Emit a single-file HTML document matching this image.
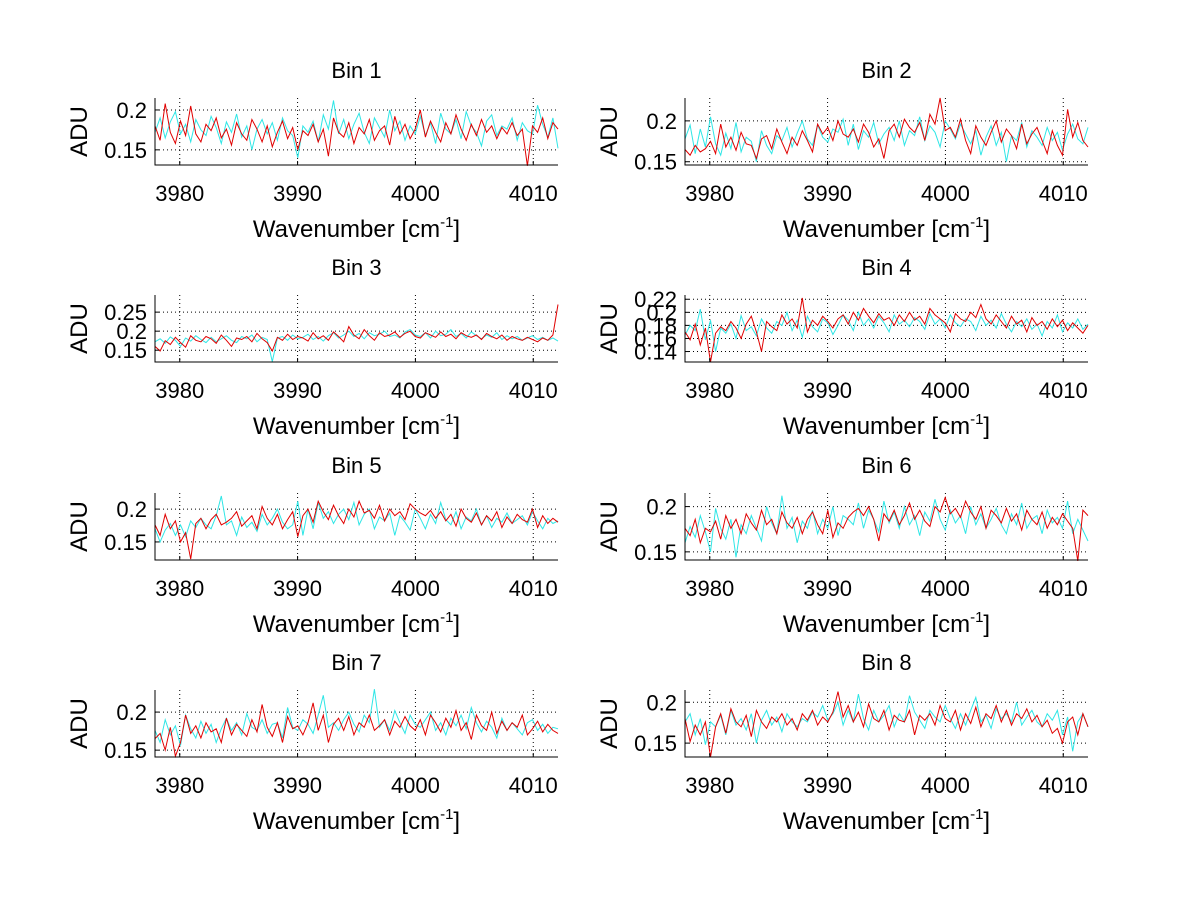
<!DOCTYPE html>
<html><head><meta charset="utf-8">
<style>
html,body{margin:0;padding:0;background:#fff;}
svg{display:block;font-family:"Liberation Sans",Arial,sans-serif;}
</style></head>
<body>
<svg id="fig" width="1200" height="901" viewBox="0 0 1200 901"></svg>
<script>
const binNames = ["Bin 1","Bin 2","Bin 3","Bin 4","Bin 5","Bin 6","Bin 7","Bin 8"];
const xMin = 3977.9, xMax = 4012.1;
const xTicks = [3980,3990,4000,4010];
const yRanges = [[0.131,0.215],[0.146,0.228],[0.119,0.295],[0.124,0.2265],[0.1225,0.2245],[0.141,0.215],[0.141,0.229],[0.133,0.215]];
const yTicks = [[0.15,0.2],[0.15,0.2],[0.15,0.2,0.25],[0.14,0.16,0.18,0.2,0.22],[0.15,0.2],[0.15,0.2],[0.15,0.2],[0.15,0.2]];
const yTickLabels = [["0.15","0.2"],["0.15","0.2"],["0.15","0.2","0.25"],["0.14","0.16","0.18","0.2","0.22"],["0.15","0.2"],["0.15","0.2"],["0.15","0.2"],["0.15","0.2"]];
// values in milli-ADU
const cyan1 = [172,190,165,185,198,170,182,160,188,175,168,192,178,158,185,172,195,166,180,150,176,188,170,184,162,190,174,168,140,180,172,186,160,194,176,212,170,188,164,182,196,172,158,190,178,166,200,174,186,162,180,170,192,168,184,158,196,176,170,188,164,198,180,172,155,186,194,168,180,176,190,162,184,174,170,206,182,166,190,152];
const red1 = [180,162,208,172,158,186,168,205,170,160,182,174,190,165,176,156,184,170,162,188,176,160,180,154,172,186,164,178,150,174,168,182,160,176,142,190,172,166,184,158,178,170,188,162,174,180,156,192,170,182,164,176,200,166,186,172,160,184,170,194,176,162,182,168,188,172,180,164,178,170,184,168,176,130,180,172,190,164,184,176];
const cyan2 = [178,195,160,190,168,205,172,158,185,166,198,162,180,175,150,188,170,160,182,176,192,168,185,200,178,170,195,180,174,190,186,202,170,196,165,188,180,198,172,184,192,176,200,170,188,182,205,176,194,186,168,200,190,178,196,184,172,188,158,180,194,170,186,150,182,176,198,168,188,180,170,192,176,186,164,184,196,178,172,192];
const red2 = [165,158,170,162,166,175,160,196,168,180,164,186,172,170,154,178,182,166,190,174,160,180,170,188,176,162,196,184,192,176,200,184,180,190,174,196,186,168,178,154,188,196,180,202,192,186,198,176,208,196,228,188,192,180,202,176,160,194,180,170,186,200,174,190,182,166,196,172,184,192,176,160,188,170,158,214,180,198,176,168];
const cyan3 = [172,180,168,185,176,160,182,174,188,178,170,184,172,180,188,176,170,186,180,190,172,184,178,120,182,186,176,190,180,184,192,178,186,174,188,196,182,190,200,186,194,180,196,188,192,200,186,190,182,198,204,190,186,196,182,200,188,192,204,186,194,182,198,188,180,190,184,196,178,188,180,186,176,182,188,178,184,176,182,174];
const red3 = [160,148,175,165,184,170,158,188,176,172,186,180,168,190,176,160,182,178,186,172,194,180,170,148,184,176,192,178,186,182,174,196,180,188,176,198,186,172,212,190,180,204,188,176,196,186,190,198,184,194,200,186,182,196,190,184,198,186,192,180,196,188,184,190,178,194,186,180,190,176,186,180,176,184,178,172,182,176,190,270];
const cyan4 = [165,180,172,205,158,188,140,176,168,182,160,195,172,178,164,190,176,168,186,180,200,172,188,162,194,178,170,190,184,166,180,196,188,172,200,180,190,176,194,184,170,196,182,188,178,192,186,174,198,182,190,176,196,184,178,190,186,172,194,180,188,176,198,182,170,186,178,190,174,182,164,186,176,196,170,184,176,190,174,182];
const red4 = [170,158,182,150,176,124,168,178,172,186,176,160,182,194,170,140,186,178,172,196,182,190,176,222,170,188,180,194,186,176,190,196,182,200,188,206,194,184,198,188,192,180,196,186,200,188,194,182,206,196,190,184,170,198,190,186,200,192,212,190,182,196,186,176,194,182,188,170,192,180,186,174,190,178,188,172,184,176,168,180];
const cyan5 = [170,150,168,178,160,176,158,182,172,186,176,170,190,220,176,182,160,188,172,180,166,192,176,186,200,180,170,176,212,160,200,170,210,186,196,178,192,200,184,210,176,192,200,170,188,182,194,160,190,180,168,200,186,170,192,178,210,184,176,196,170,188,182,200,176,190,172,186,180,194,178,184,190,176,196,182,170,186,178,182];
const red5 = [176,160,192,170,182,150,164,124,178,186,170,184,192,176,180,186,196,174,182,190,170,204,186,176,192,170,184,196,158,190,200,180,212,196,184,206,190,178,200,188,212,194,198,186,206,182,200,190,196,184,208,200,194,190,198,186,196,182,192,174,200,186,180,194,176,190,182,196,172,188,178,192,184,180,200,172,190,178,186,180];
const cyan6 = [160,178,166,190,172,150,198,176,164,186,144,180,170,190,176,162,200,182,170,212,176,188,160,184,176,196,170,186,176,200,168,190,186,180,204,176,196,186,172,206,182,194,176,200,180,190,168,194,184,208,186,174,196,182,190,170,200,180,192,176,186,198,180,170,192,180,204,176,186,190,170,196,182,188,176,206,170,186,174,162];
const red6 = [176,168,186,160,176,172,184,164,190,176,186,170,192,182,174,196,180,186,170,194,182,176,188,170,186,194,180,170,196,166,182,176,188,194,198,190,200,186,162,192,184,196,180,190,204,186,196,184,178,200,194,210,192,198,188,206,194,186,200,176,196,190,182,198,184,192,174,196,186,180,194,176,188,180,192,184,176,140,196,190];
const cyan7 = [176,160,190,170,182,156,196,178,166,188,172,184,160,178,192,176,186,170,198,180,176,190,172,184,186,166,206,180,176,190,184,172,196,222,180,186,176,190,200,184,174,196,186,230,180,190,176,202,186,172,196,184,180,190,200,176,186,170,192,182,196,178,206,186,174,188,180,166,192,176,186,178,170,186,190,176,184,172,180,178];
const red7 = [165,172,150,180,142,160,196,172,182,166,186,174,178,160,192,170,184,176,168,190,174,210,180,168,186,160,194,178,182,170,186,212,176,196,160,184,192,176,194,170,186,180,196,176,182,190,170,188,180,194,182,176,190,170,196,186,174,192,180,202,176,186,164,196,182,176,200,172,188,176,186,180,196,170,178,188,174,184,176,172];
const cyan8 = [176,186,160,180,148,176,170,184,160,190,172,180,166,186,150,178,190,172,182,164,186,176,170,180,176,188,182,196,178,186,200,172,190,176,210,180,166,190,176,184,196,170,186,176,208,188,178,168,190,182,176,196,180,168,186,172,190,206,176,184,168,192,180,186,176,200,172,182,190,176,170,186,178,190,160,182,140,176,186,170];
const red8 = [180,152,172,160,176,133,170,186,162,192,176,170,184,158,190,176,168,182,176,186,172,180,166,186,178,190,172,182,176,188,213,182,196,176,188,170,198,180,176,190,166,184,178,176,190,160,184,178,186,172,196,180,176,190,166,186,174,194,170,186,180,196,176,190,172,186,180,192,176,184,170,178,162,168,150,176,182,160,186,170];
const cyanSeries = [cyan1,cyan2,cyan3,cyan4,cyan5,cyan6,cyan7,cyan8];
const redSeries = [red1,red2,red3,red4,red5,red6,red7,red8];

const NS = "http://www.w3.org/2000/svg";
const svg = document.getElementById("fig");
function mk(tag, attrs, parent){
  const e = document.createElementNS(NS, tag);
  for (const k in attrs) e.setAttribute(k, attrs[k]);
  (parent||svg).appendChild(e);
  return e;
}
const colLeft = [155, 685], axW = 403;
const rowTop = [98, 295, 493, 690], axH = 67;

for (let b = 0; b < 8; b++) {
  const col = b % 2, row = Math.floor(b / 2);
  const L = colLeft[col], T = rowTop[row], R = L + axW, B = T + axH;
  const [y0, y1] = yRanges[b];
  const sx = v => L + (v - xMin) / (xMax - xMin) * axW;
  const sy = v => B - (v - y0) / (y1 - y0) * axH;
  const g = mk("g", {});
  
  

  xTicks.forEach(t => {
    const l = mk("line", {x1:sx(t), x2:sx(t), y1:T, y2:B, stroke:"#000", "stroke-width":1, "stroke-dasharray":"1,3"}, g);
    
    
  });
  yTicks[b].forEach(t => {
    const l = mk("line", {x1:L, x2:R, y1:sy(t), y2:sy(t), stroke:"#000", "stroke-width":1, "stroke-dasharray":"1,3"}, g);
    
    
  });

  const drawSeries = (vals, color, name) => {
    const n = vals.length;
    const pts = vals.map((v, i) => sx(xMin + i * (xMax - xMin) / (n - 1)).toFixed(1) + "," + sy(v / 1000).toFixed(1)).join(" ");
    const p = mk("polyline", {points:pts, fill:"none", stroke:color, "stroke-width":1}, g);
    
    
  };
  drawSeries(cyanSeries[b], "#2ee6e6", "cyan-series");
  drawSeries(redSeries[b], "#e00000", "red-series");

  const ax = mk("path", {d:`M${L} ${T} L${L} ${B} L${R} ${B}`, fill:"none", stroke:"#000", "stroke-width":1}, g);
  
  

  xTicks.forEach(t => {
    mk("line", {x1:sx(t), x2:sx(t), y1:B, y2:B-4, stroke:"#000"}, g);
    const tx = mk("text", {x:sx(t), y:B+36, "text-anchor":"middle", "font-size":"22"}, g);
    tx.textContent = t;
    
    
  });
  yTicks[b].forEach((t, i) => {
    mk("line", {x1:L, x2:L+4, y1:sy(t), y2:sy(t), stroke:"#000"}, g);
    const tx = mk("text", {x:L-8, y:sy(t)+8, "text-anchor":"end", "font-size":"22"}, g);
    tx.textContent = yTickLabels[b][i];
    
    
  });

  const title = mk("text", {x:L+axW/2, y:T-20, "text-anchor":"middle", "font-size":"22"}, g);
  title.textContent = binNames[b];
  
  

  const xl = mk("text", {x:L+axW/2, y:B+72, "text-anchor":"middle", "font-size":"24"}, g);
  xl.innerHTML = 'Wavenumber [cm<tspan dy="-10" font-size="15">-1</tspan><tspan dy="10">]</tspan>';
  
  

  const yl = mk("text", {x:0, y:0, "text-anchor":"middle", "font-size":"24", transform:`translate(${L-68},${T+axH/2}) rotate(-90)`}, g);
  yl.textContent = "ADU";
  
  
}
</script>
</body></html>
